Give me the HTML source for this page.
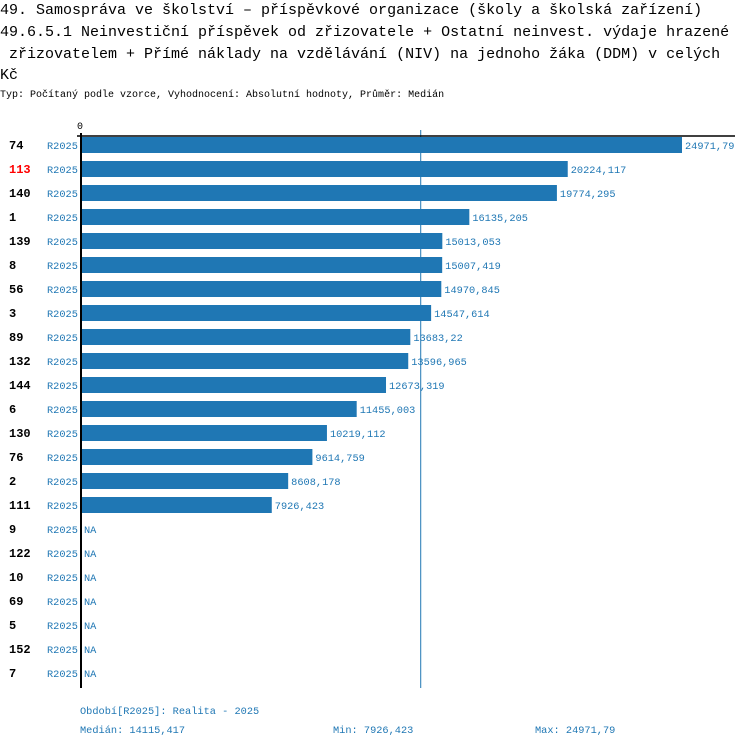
<!DOCTYPE html>
<html><head><meta charset="utf-8"><style>
html,body{margin:0;padding:0;background:#fff;width:750px;height:748px;overflow:hidden}
.t{position:absolute;left:0;font-family:"Liberation Mono",monospace;font-size:15px;color:#000;white-space:pre;line-height:21.5px}
.s{position:absolute;left:0;top:90px;font-family:"Liberation Mono",monospace;font-size:10px;color:#000;white-space:pre}
svg{position:absolute;left:0;top:0}
</style></head><body>
<div class="t" style="top:0">49. Samospráva ve školství – příspěvkové organizace (školy a školská zařízení)</div>
<div class="t" style="top:22px">49.6.5.1 Neinvestiční příspěvek od zřizovatele + Ostatní neinvest. výdaje hrazené
 zřizovatelem + Přímé náklady na vzdělávání (NIV) na jednoho žáka (DDM) v celých
Kč</div>
<div class="s">Typ: Počítaný podle vzorce, Vyhodnocení: Absolutní hodnoty, Průměr: Medián</div>
<svg id="c" width="750" height="748"></svg>
<script>
const categories=["74","113","140","1","139","8","56","3","89","132","144","6","130","76","2","111","9","122","10","69","5","152","7"];
const values=[24971.79,20224.117,19774.295,16135.205,15013.053,15007.419,14970.845,14547.614,13683.22,13596.965,12673.319,11455.003,10219.112,9614.759,8608.178,7926.423,null,null,null,null,null,null,null];
const valueLabels=["24971,79","20224,117","19774,295","16135,205","15013,053","15007,419","14970,845","14547,614","13683,22","13596,965","12673,319","11455,003","10219,112","9614,759","8608,178","7926,423","NA","NA","NA","NA","NA","NA","NA"];
const highlighted=["113"];
const median=14115.417, medianLabel="14115,417", minLabel="7926,423", maxLabel="24971,79";
const NS="http://www.w3.org/2000/svg";
const svg=document.getElementById('c');
const x0=81, scale=601/24971.79;
const xs=v=>x0+v*scale;
const yc=i=>145+i*24;
function mk(t,a,txt){const e=document.createElementNS(NS,t);for(const k in a)e.setAttribute(k,a[k]);if(txt!==undefined)e.textContent=txt;svg.appendChild(e);return e;}
const F='"Liberation Mono",monospace';
const mx=xs(median);
let e=mk('line',{x1:mx,y1:130,x2:mx,y2:688,stroke:'#1f77b4','stroke-width':1});

categories.forEach((c,i)=>{
  const y=yc(i);
  let t=mk('text',{x:9,y:y+4,'font-family':F,'font-size':12,'font-weight':'bold',fill:highlighted.includes(c)?'#ff0000':'#000'},c);
  
  t=mk('text',{x:47,y:y+4,'font-family':F,'font-size':10.3,fill:'#1f77b4'},'R2025');
  
  let end=x0;
  if(values[i]!=null){
    end=xs(values[i]);
    const r=mk('rect',{x:x0,y:y-8,width:end-x0,height:16,fill:'#1f77b4'});
    
  }
  t=mk('text',{x:end+3,y:y+4,'font-family':F,'font-size':10.3,fill:'#1f77b4'},valueLabels[i]);
  
});
e=mk('line',{x1:77,y1:136,x2:735,y2:136,stroke:'#000','stroke-width':1.5});

e=mk('line',{x1:81,y1:133,x2:81,y2:688,stroke:'#000','stroke-width':2});

e=mk('text',{x:77,y:129,'font-family':F,'font-size':10,fill:'#000'},'0');

e=mk('text',{x:80,y:714,'font-family':F,'font-size':10.3,fill:'#1f77b4'},'Období[R2025]: Realita - 2025');

e=mk('text',{x:80,y:733,'font-family':F,'font-size':10.3,fill:'#1f77b4'},'Medián: '+medianLabel);

e=mk('text',{x:333,y:733,'font-family':F,'font-size':10.3,fill:'#1f77b4'},'Min: '+minLabel);

e=mk('text',{x:535,y:733,'font-family':F,'font-size':10.3,fill:'#1f77b4'},'Max: '+maxLabel);

</script>
</body></html>
